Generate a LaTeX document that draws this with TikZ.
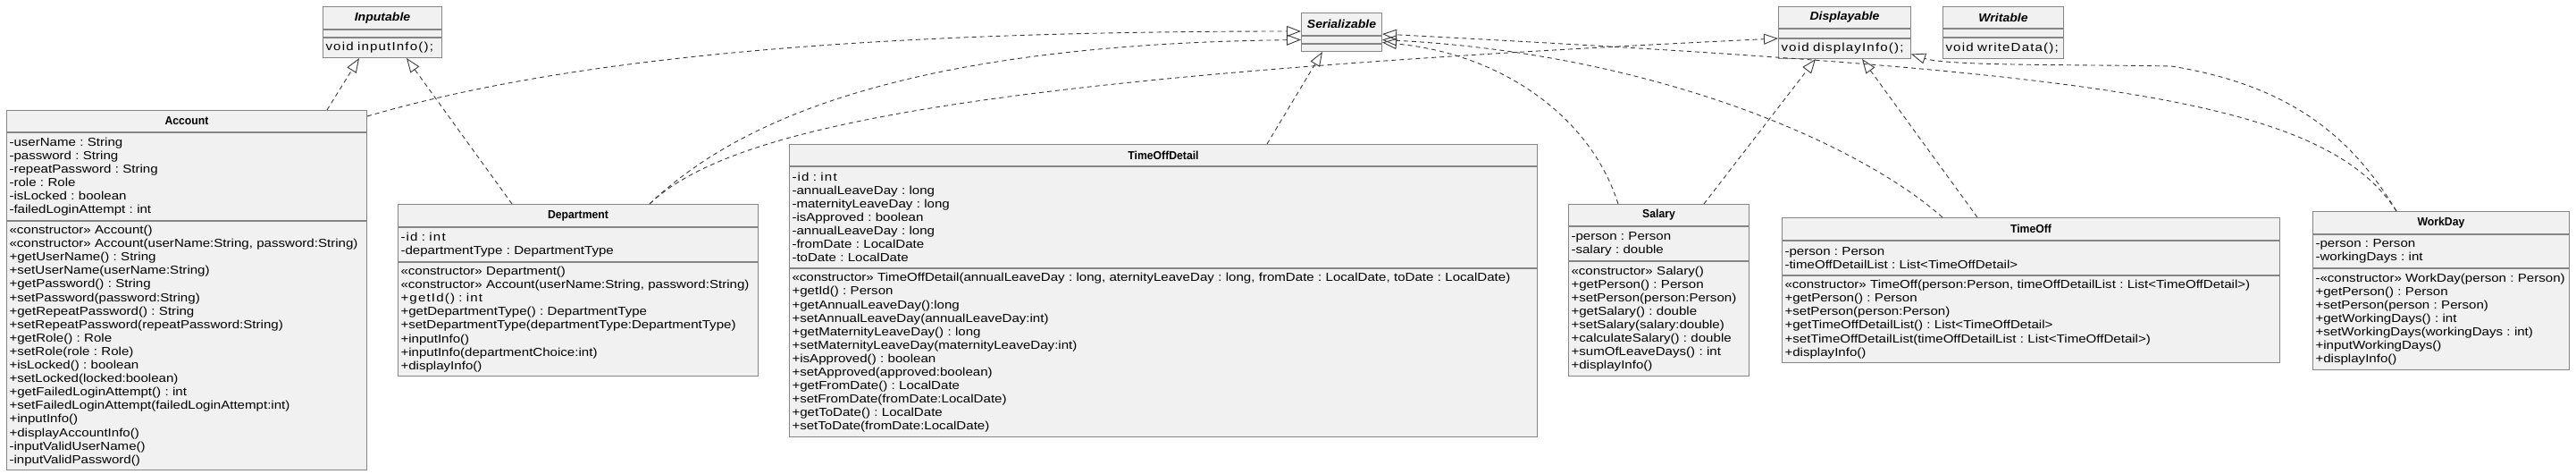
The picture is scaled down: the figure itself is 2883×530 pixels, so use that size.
\documentclass[tikz,border=0pt]{standalone}
\usepackage{fontspec}
\setmainfont{Liberation Sans}[FakeStretch=1.16]
\newfontfamily\namefont{Liberation Sans}[FakeStretch=0.94]
\newfontfamily\ifacefont{Liberation Sans}[FakeStretch=1.08]
\newfontfamily\spcfont{Liberation Sans}[FakeStretch=1.16,LetterSpace=9]
\usetikzlibrary{arrows.meta}
\definecolor{back}{HTML}{F1F1F1}
\definecolor{edge}{HTML}{858585}
\definecolor{wire}{HTML}{3A3A3A}
\frenchspacing
\hyphenpenalty=10000
\exhyphenpenalty=10000
\begin{document}
\begin{tikzpicture}[x=1pt, y=-1pt]
			\tikzstyle{k} = [draw=edge, fill=back, line width=1pt, anchor=north west, inner sep=0pt, font=\namefont\bfseries\fontsize{13}{15}\selectfont]
			\tikzstyle{f} = [k, font=\ifacefont\bfseries\itshape\fontsize{13}{15}\selectfont]
			\tikzstyle{b} = [draw=edge, fill=back, line width=1pt, anchor=north west, inner xsep=3pt, inner ysep=0pt, align=left, font=\fontsize{13}{15.1}\selectfont]
			\tikzstyle{bs} = [b, font=\spcfont\fontsize{13}{15.1}\selectfont]
			\tikzstyle{real} = [draw=wire, line width=0.9pt, dash pattern=on 5pt off 4pt, -{Triangle[open, length=16pt, width=12pt]}]
			\useasboundingbox (0,0) rectangle (2883,530);
			\node[f, minimum width=133pt, minimum height=25pt] (inp) at (361,7) {Inputable};
			\node[bs, text width=127pt, minimum height=8pt] (inp-a) at (inp.south west) {};
			\node[bs, text width=127pt, minimum height=22pt] (inp-o) at (inp-a.south west) {void inputInfo();};
			\node[f, minimum width=90pt, minimum height=25pt] (ser) at (1456,14) {Serializable};
			\node[b, text width=84pt, minimum height=8pt] (ser-a) at (ser.south west) {};
			\node[b, text width=84pt, minimum height=8pt] (ser-o) at (ser-a.south west) {};
			\node[f, minimum width=148pt, minimum height=24pt] (dis) at (1990,7) {Displayable};
			\node[bs, text width=142pt, minimum height=10pt] (dis-a) at (dis.south west) {};
			\node[bs, text width=142pt, minimum height=22pt] (dis-o) at (dis-a.south west) {void displayInfo();};
			\node[f, minimum width=135pt, minimum height=24pt] (wri) at (2174,7) {Writable};
			\node[bs, text width=129pt, minimum height=9pt] (wri-a) at (wri.south west) {};
			\node[bs, text width=129pt, minimum height=23pt] (wri-o) at (wri-a.south west) {void writeData();};
			\node[k, minimum width=403pt, minimum height=24pt] (acc) at (7,123) {Account};
			\node[b, text width=397pt, minimum height=98pt] (acc-a) at (acc.south west) {
				-userName : String\\
				-password : String\\
				-repeatPassword : String\\
				-role : Role\\
				-isLocked : boolean\\
				-failedLoginAttempt : int};
			\node[b, text width=397pt, minimum height=278pt] (acc-o) at (acc-a.south west) {
				«constructor» Account()\\
				«constructor» Account(userName:String, password:String)\\
				+getUserName() : String\\
				+setUserName(userName:String)\\
				+getPassword() : String\\
				+setPassword(password:String)\\
				+getRepeatPassword() : String\\
				+setRepeatPassword(repeatPassword:String)\\
				+getRole() : Role\\
				+setRole(role : Role)\\
				+isLocked() : boolean\\
				+setLocked(locked:boolean)\\
				+getFailedLoginAttempt() : int\\
				+setFailedLoginAttempt(failedLoginAttempt:int)\\
				+inputInfo()\\
				+displayAccountInfo()\\
				-inputValidUserName()\\
				-inputValidPassword()};
			\node[k, minimum width=403pt, minimum height=25pt] (dep) at (445,228) {Department};
			\node[b, text width=397pt, minimum height=38pt] (dep-a) at (dep.south west) {
				{\spcfont -id : int}\\
				-departmentType : DepartmentType};
			\node[b, text width=397pt, minimum height=127pt] (dep-o) at (dep-a.south west) {
				«constructor» Department()\\
				«constructor» Account(userName:String, password:String)\\
				{\spcfont +getId() : int}\\
				+getDepartmentType() : DepartmentType\\
				+setDepartmentType(departmentType:DepartmentType)\\
				+inputInfo()\\
				+inputInfo(departmentChoice:int)\\
				+displayInfo()};
			\node[k, minimum width=837pt, minimum height=24pt] (tod) at (883,161) {TimeOffDetail};
			\node[b, text width=831pt, minimum height=113pt] (tod-a) at (tod.south west) {
				{\spcfont -id : int}\\
				-annualLeaveDay : long\\
				-maternityLeaveDay : long\\
				-isApproved : boolean\\
				-annualLeaveDay : long\\
				-fromDate : LocalDate\\
				-toDate : LocalDate};
			\node[b, text width=831pt, minimum height=188pt] (tod-o) at (tod-a.south west) {
				«constructor» TimeOffDetail(annualLeaveDay : long, aternityLeaveDay : long, fromDate : LocalDate, toDate : LocalDate)\\
				+getId() : Person\\
				+getAnnualLeaveDay():long\\
				+setAnnualLeaveDay(annualLeaveDay:int)\\
				+getMaternityLeaveDay() : long\\
				+setMaternityLeaveDay(maternityLeaveDay:int)\\
				+isApproved() : boolean\\
				+setApproved(approved:boolean)\\
				+getFromDate() : LocalDate\\
				+setFromDate(fromDate:LocalDate)\\
				+getToDate() : LocalDate\\
				+setToDate(fromDate:LocalDate)};
			\node[k, minimum width=202pt, minimum height=24pt] (sal) at (1755,228) {Salary};
			\node[b, text width=196pt, minimum height=38pt] (sal-a) at (sal.south west) {
				-person : Person\\
				-salary : double};
			\node[b, text width=196pt, minimum height=128pt] (sal-o) at (sal-a.south west) {
				«constructor» Salary()\\
				+getPerson() : Person\\
				+setPerson(person:Person)\\
				+getSalary() : double\\
				+setSalary(salary:double)\\
				+calculateSalary() : double\\
				+sumOfLeaveDays() : int\\
				+displayInfo()};
			\node[k, minimum width=557pt, minimum height=25pt] (tof) at (1994,243) {TimeOff};
			\node[b, text width=551pt, minimum height=38pt] (tof-a) at (tof.south west) {
				-person : Person\\
				-timeOffDetailList : List<TimeOffDetail>};
			\node[b, text width=551pt, minimum height=97pt] (tof-o) at (tof-a.south west) {
				«constructor» TimeOff(person:Person, timeOffDetailList : List<TimeOffDetail>)\\
				+getPerson() : Person\\
				+setPerson(person:Person)\\
				+getTimeOffDetailList() : List<TimeOffDetail>\\
				+setTimeOffDetailList(timeOffDetailList : List<TimeOffDetail>)\\
				+displayInfo()};
			\node[k, minimum width=287pt, minimum height=25pt] (wd) at (2588,236) {WorkDay};
			\node[b, text width=281pt, minimum height=37pt] (wd-a) at (wd.south west) {
				-person : Person\\
				-workingDays : int};
			\node[b, text width=281pt, minimum height=113pt] (wd-o) at (wd-a.south west) {
				-«constructor» WorkDay(person : Person)\\
				+getPerson() : Person\\
				+setPerson(person : Person)\\
				+getWorkingDays() : int\\
				+setWorkingDays(workingDays : int)\\
				+inputWorkingDays()\\
				+displayInfo()};
			\draw[real] ([xshift=359pt]acc.north west) -- ([xshift=41pt]inp-o.south west);
			\draw[real] ([yshift=-7pt]acc.north east) .. controls (650,60) and (1000,35) .. ([yshift=-21pt]ser.north west);
			\draw[real] ([xshift=128pt]dep.north west) -- ([xshift=94pt]inp-o.south west);
			\draw[real] ([xshift=282pt]dep.north west) .. controls (820,140) and (1000,50) .. (ser-a.west);
			\draw[real] ([xshift=282pt]dep.north west) .. controls (820,140) and (1100,85) .. (dis-o.north west);
			\draw[real] ([xshift=535pt]tod.north west) -- ([xshift=24pt]ser-o.south west);
			\draw[real] ([xshift=56pt]sal.north west) .. controls (1780,130) and (1680,60) .. ([yshift=-3pt]ser-a.east);
			\draw[real] ([xshift=152pt]sal.north west) -- ([xshift=42pt]dis-o.south west);
			\draw[real] ([xshift=180pt]tof.north west) .. controls (2080,160) and (1850,60) .. (ser-a.east);
			\draw[real] ([xshift=219pt]tof.north west) -- ([xshift=94pt]dis-o.south west);
			\draw[real] ([xshift=94pt]wd.north west) .. controls (2600,110) and (2350,80) .. ([yshift=-24pt]ser.north east);
			\draw[real] ([xshift=94pt]wd.north west) .. controls (2630,150) and (2560,95) .. (2430,74) .. controls (2330,72) and (2180,74) .. ([yshift=-6pt]dis-o.east);
\end{tikzpicture}
\end{document}
